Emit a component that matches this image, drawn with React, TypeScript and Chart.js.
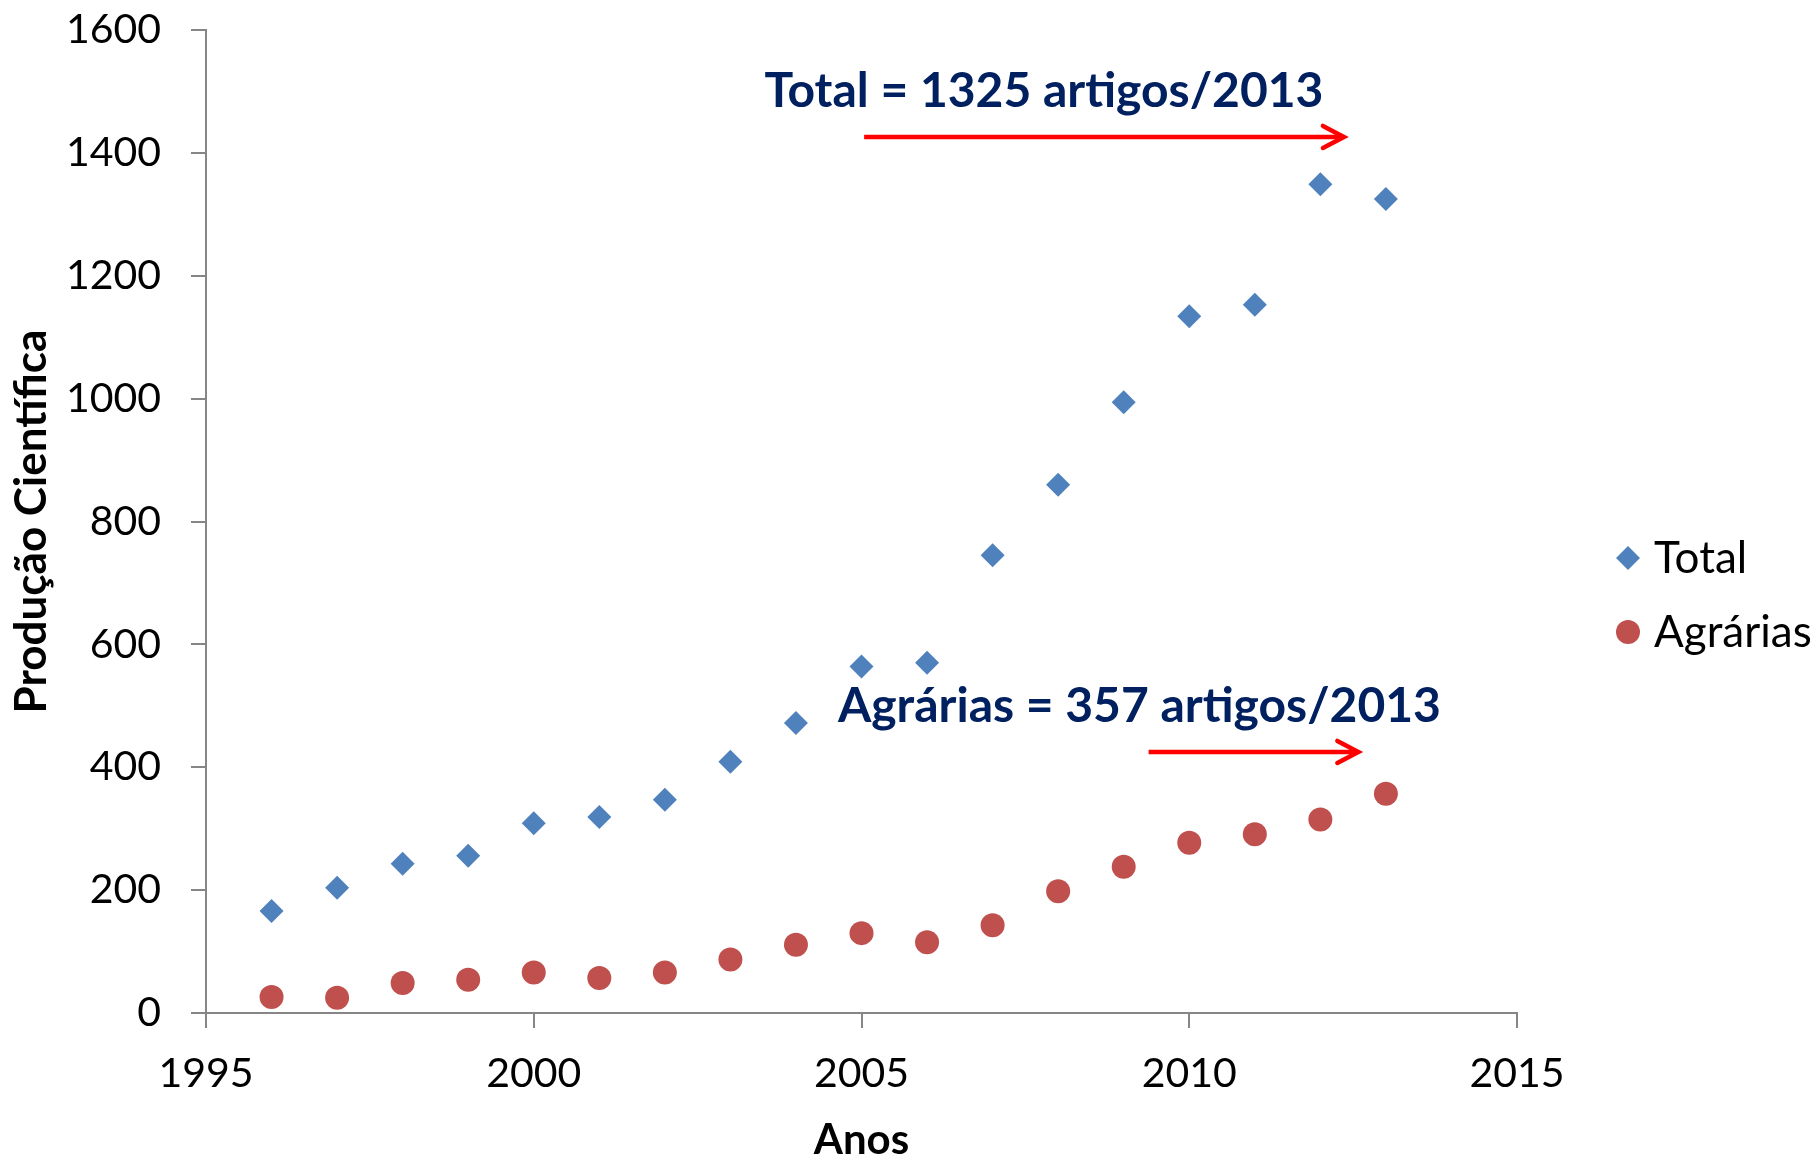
import React, { useEffect, useRef } from 'react';
import { Chart, registerables } from 'chart.js';

Chart.register(...registerables);

// ---- data ----
const years = [1996, 1997, 1998, 1999, 2000, 2001, 2002, 2003, 2004, 2005, 2006, 2007, 2008, 2009, 2010, 2011, 2012, 2013];
const totalValues = [166, 204, 243, 256, 309, 319, 347, 409, 472, 564, 570, 745, 860, 994, 1134, 1153, 1349, 1325];
const agrariasValues = [26, 25, 49, 54, 66, 57, 66, 87, 111, 130, 115, 143, 198, 238, 277, 291, 315, 357];
const seriesLabels = ['Total', 'Agrárias'];
const xAxisTitle = 'Anos';
const yAxisTitle = 'Produção Científica';
const xRange = [1995, 2015];
const yRange = [0, 1600];

// annotation texts and arrows, in data coordinates (year, value)
const annotationTexts = ['Total = 1325 artigos/2013', 'Agrárias = 357 artigos/2013'];
const annotationTextAt = [[2003.52, 1474], [2004.64, 474]];
const annotationArrowFrom = [[2005.04, 1426], [2009.38, 425]];
const annotationArrowTo = [[2012.36, 1426], [2012.58, 425]];

const BLUE = '#4F81BD';
const RED = '#C0504D';
const AXIS = '#868686';
const FONT = 'Lato, "Open Sans", sans-serif';

const overlayPlugin = {
  id: 'overlay',
  afterDraw(chart: any) {
    const ctx = chart.ctx;
    const xs = chart.scales.x;
    const ys = chart.scales.y;
    ctx.save();
    // annotations
    for (let i = 0; i < annotationTexts.length; i++) {
      ctx.font = `bold 48px ${FONT}`;
      ctx.fillStyle = '#002060';
      ctx.textAlign = 'left';
      ctx.textBaseline = 'alphabetic';
      ctx.fillText(annotationTexts[i], xs.getPixelForValue(annotationTextAt[i][0]), ys.getPixelForValue(annotationTextAt[i][1]));
      const x1 = xs.getPixelForValue(annotationArrowFrom[i][0]);
      const y1 = ys.getPixelForValue(annotationArrowFrom[i][1]);
      const x2 = xs.getPixelForValue(annotationArrowTo[i][0]);
      const y2 = ys.getPixelForValue(annotationArrowTo[i][1]);
      ctx.strokeStyle = '#FF0000';
      ctx.lineWidth = 4.5;
      ctx.lineCap = 'butt';
      ctx.beginPath();
      ctx.moveTo(x1, y1);
      ctx.lineTo(x2 - 2, y2);
      ctx.stroke();
      ctx.lineCap = 'round';
      ctx.lineJoin = 'miter';
      ctx.beginPath();
      ctx.moveTo(x2 - 21, y2 - 11);
      ctx.lineTo(x2, y2);
      ctx.lineTo(x2 - 21, y2 + 11);
      ctx.stroke();
    }
    // legend
    const lx = 1628;
    const ly = [558, 632];
    const colors = [BLUE, RED];
    for (let i = 0; i < seriesLabels.length; i++) {
      ctx.fillStyle = colors[i];
      ctx.beginPath();
      if (i === 0) {
        ctx.moveTo(lx - 12, ly[i]);
        ctx.lineTo(lx, ly[i] - 12);
        ctx.lineTo(lx + 12, ly[i]);
        ctx.lineTo(lx, ly[i] + 12);
        ctx.closePath();
      } else {
        ctx.arc(lx, ly[i], 12, 0, Math.PI * 2);
      }
      ctx.fill();
      ctx.fillStyle = '#000';
      ctx.font = `44px ${FONT}`;
      ctx.textAlign = 'left';
      ctx.textBaseline = 'middle';
      ctx.fillText(seriesLabels[i], lx + 26, ly[i] + 1);
    }
    ctx.restore();
  },
};

export default function App() {
  const ref = useRef<HTMLCanvasElement | null>(null);
  useEffect(() => {
    if (!ref.current) return;
    const chart = new Chart(ref.current, {
      type: 'scatter',
      data: {
        datasets: [
          {
            label: seriesLabels[0],
            data: years.map((y, i) => ({ x: y, y: totalValues[i] })),
            backgroundColor: BLUE,
            borderColor: BLUE,
            pointStyle: 'rectRot',
            pointRadius: 12,
            borderWidth: 0,
          },
          {
            label: seriesLabels[1],
            data: years.map((y, i) => ({ x: y, y: agrariasValues[i] })),
            backgroundColor: RED,
            borderColor: RED,
            pointStyle: 'circle',
            pointRadius: 12,
            borderWidth: 0,
          },
        ],
      },
      options: {
        animation: false,
        responsive: true,
        maintainAspectRatio: false,
        layout: { padding: { left: 0, top: 30, right: 301, bottom: 0 } },
        plugins: { legend: { display: false }, tooltip: { enabled: false } },
        scales: {
          x: {
            type: 'linear',
            min: xRange[0],
            max: xRange[1],
            afterFit: (s: any) => { s.height = 146; s.paddingLeft = 0; s.paddingRight = 0; },
            ticks: {
              stepSize: 5,
              color: '#000',
              font: { family: FONT, size: 41 },
              padding: 21,
              callback: (v: any) => String(v),
            },
            grid: { drawOnChartArea: false, drawTicks: true, tickLength: 15, color: AXIS, lineWidth: 2 },
            border: { color: AXIS, width: 2 },
            title: {
              display: true,
              text: xAxisTitle,
              color: '#000',
              font: { family: FONT, size: 42, weight: 'bold', lineHeight: 1 },
              padding: { top: 0, bottom: -2 },
            },
          },
          y: {
            type: 'linear',
            min: yRange[0],
            max: yRange[1],
            afterFit: (s: any) => { s.width = 206; s.paddingTop = 0; s.paddingBottom = 0; },
            ticks: {
              stepSize: 200,
              color: '#000',
              font: { family: FONT, size: 41 },
              padding: 30,
              callback: (v: any) => String(v),
            },
            grid: { drawOnChartArea: false, drawTicks: true, tickLength: 15, color: AXIS, lineWidth: 2 },
            border: { color: AXIS, width: 2 },
            title: {
              display: true,
              text: yAxisTitle,
              color: '#000',
              font: { family: FONT, size: 44, weight: 'bold', lineHeight: 1 },
              padding: { top: 10, bottom: 0 },
            },
          },
        },
      },
      plugins: [overlayPlugin],
    });
    return () => chart.destroy();
  }, []);
  return (
    <div style={{ position: 'absolute', left: 0, top: 0, width: 1818, height: 1159, background: '#fff' }}>
      <canvas ref={ref} />
    </div>
  );
}
